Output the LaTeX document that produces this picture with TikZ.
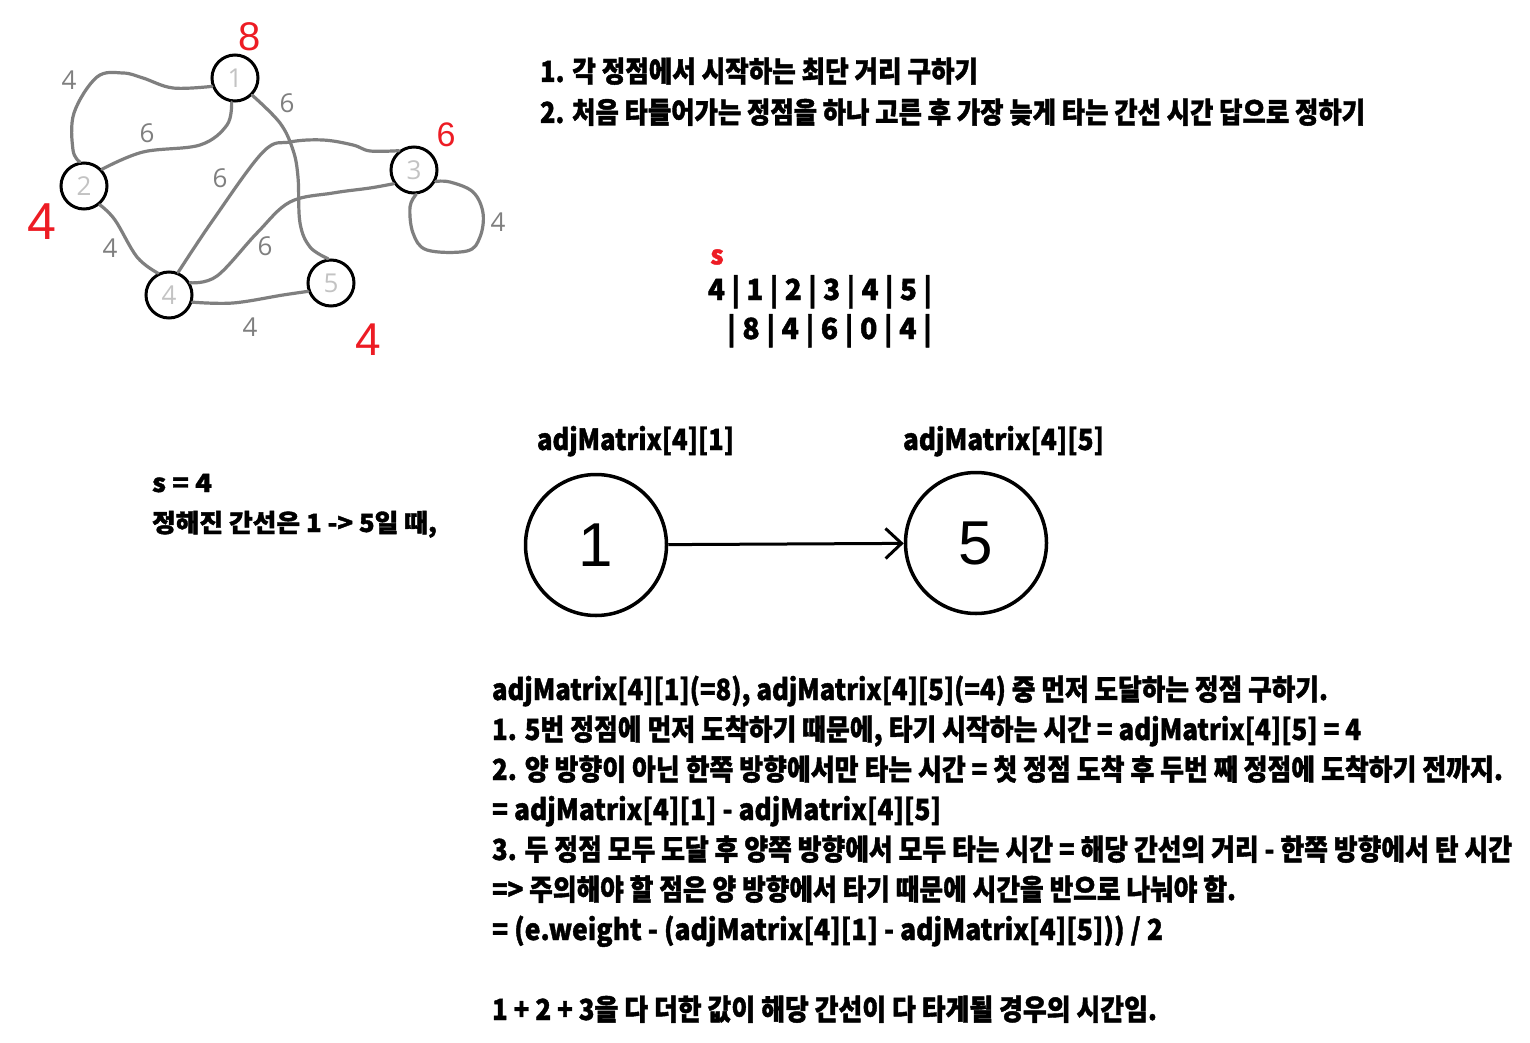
\documentclass[tikz,border=0pt]{standalone}
\usepackage{fontspec}
\usepackage{graphicx}
\usetikzlibrary{arrows.meta}
\newfontfamily\kr{Noto Sans CJK KR}[BoldFeatures={FakeBold=1.5}]
\newfontfamily\os{Open Sans}
\newfontfamily\ls{Liberation Sans}
\definecolor{edgegray}{HTML}{7F7F7F}
\definecolor{lblgray}{HTML}{C3C3C3}
\definecolor{paintred}{HTML}{ED1C24}
\newdimen\fitdim
\newcommand\fitw[2]{\settowidth\fitdim{#2}\scalebox{\fpeval{#1/\fitdim}}[1]{#2}}
\begin{document}
\begin{tikzpicture}[x=1pt,y=-1pt,
  kb/.style={font=\kr\bfseries\fontsize{29}{32}\selectfont, anchor=base west, inner sep=0pt, outer sep=0pt},
  kl/.style={font=\kr\bfseries\fontsize{25}{28}\selectfont, anchor=base west, inner sep=0pt, outer sep=0pt},
  gnode/.style={circle, draw=black, line width=3pt, minimum size=46pt, inner sep=0pt, text=lblgray, font=\os\fontsize{26}{28}\selectfont},
  gedge/.style={draw=edgegray, line width=3.2pt, line cap=round, line join=round},
  wlab/.style={text=edgegray, font=\os\fontsize{26}{28}\selectfont, inner sep=0pt},
  redlab/.style={text=paintred, inner sep=0pt},
  bignode/.style={circle, draw=black, line width=3.5pt, minimum size=141pt, inner sep=0pt, font=\ls\fontsize{62}{62}\selectfont},
  arr/.style={line width=3pt, -{Straight Barb[length=16pt,width=30pt,line width=3pt]}}
]
\useasboundingbox[fill=white] (0,0) rectangle (1530,1043);

% ---------- graph ----------
\node[gnode] (n1) at (235,78) {1};
\node[gnode] (n2) at (84,186) {2};
\node[gnode] (n3) at (414,170) {3};
\node[gnode] (n4) at (169,295) {4};
\node[gnode] (n5) at (331,283) {5};

\draw[gedge] plot[smooth, tension=0.6] coordinates {(n1.200) (173,88) (143,78) (123,73) (97,77) (74,113) (73,150) (n2.100)};
\draw[gedge] plot[smooth, tension=0.6] coordinates {(n1.262) (227,125) (200,145) (143,152) (n2.43)};
\draw[gedge] plot[smooth, tension=0.6] coordinates {(n1.315) (280,123) (293,150) (298,177) (300,223) (310,247) (n5.97)};
\draw[gedge] plot[smooth, tension=0.6] coordinates {(n4.68) (213,220) (263,152) (290,142) (323,140) (353,145) (370,151) (n3.128)};
\draw[gedge] plot[smooth, tension=0.6] coordinates {(n4.30) (217,276) (257,233) (290,202) (333,193) (370,188) (n3.214)};
\draw[gedge] plot[smooth, tension=0.6] coordinates {(n3.332) (450,182) (473,192) (483,213) (480,237) (467,251) (427,250) (413,233) (410,207) (n3.275)};
\draw[gedge] plot[smooth, tension=0.6] coordinates {(n2.310) (115,220) (137,257) (n4.117)};
\draw[gedge] plot[smooth, tension=0.6] coordinates {(n4.343) (233,303) (283,295) (n5.200)};

\node[wlab] (w12a) at (69,80) {4};
\node[wlab] (w12b) at (147,133) {6};
\node[wlab] (w15) at (287,103) {6};
\node[wlab] (w43a) at (220,178) {6};
\node[wlab] (w43b) at (265,246) {6};
\node[wlab] (w33) at (498,222) {4};
\node[wlab] (w24) at (110,248) {4};
\node[wlab] (w45) at (250,327) {4};

\node[redlab, font=\ls\fontsize{40}{40}\selectfont] (r1) at (250,37) {8};
\node[redlab, font=\ls\fontsize{34}{34}\selectfont] (r3) at (446,135) {6};
\node[redlab, font=\ls\fontsize{52}{52}\selectfont] (r2) at (42,222) {4};
\node[redlab, font=\ls\fontsize{46}{46}\selectfont] (r5) at (368,340) {4};

% ---------- top text ----------
\node[kb] (t1) at (540,82) {\fitw{438}{1. 각 정점에서 시작하는 최단 거리 구하기}};
\node[kb] (t2) at (540,123) {\fitw{825}{2. 처음 타들어가는 정점을 하나 고른 후 가장 늦게 타는 간선 시간 답으로 정하기}};

% ---------- table ----------
\node[redlab, font=\kr\bfseries\fontsize{26}{26}\selectfont] (s) at (717,257) {s};
\node[kb, font=\kr\bfseries\fontsize{29}{30}\selectfont] (row1) at (708,300) {\fitw{224}{4 | 1 | 2 | 3 | 4 | 5 |}};
\node[kb, font=\kr\bfseries\fontsize{29}{30}\selectfont] (row2) at (727,339) {\fitw{205}{| 8 | 4 | 6 | 0 | 4 |}};

% ---------- left text ----------
\node[kl] (s4) at (152,492) {\fitw{60}{s = 4}};
\node[kl] (edge) at (152,532) {\fitw{285}{정해진 간선은 1 -> 5일 때,}};

% ---------- big circles ----------
\node[kb] (lab1) at (537,450) {\fitw{197}{adjMatrix[4][1]}};
\node[kb] (lab5) at (903,450) {\fitw{201}{adjMatrix[4][5]}};
\node[bignode] (b1) at (596,545) {1};
\node[bignode] (b5) at (976,543) {5};
\draw[arr] (b1) -- (b5);

% ---------- bottom text ----------
\node[kb] (l1) at (492,700) {\fitw{836}{adjMatrix[4][1](=8), adjMatrix[4][5](=4) 중 먼저 도달하는 정점 구하기.}};
\node[kb] (l2) at (492,740) {\fitw{869}{1. 5번 정점에 먼저 도착하기 때문에, 타기 시작하는 시간 = adjMatrix[4][5] = 4}};
\node[kb] (l3) at (492,780) {\fitw{1011}{2. 양 방향이 아닌 한쪽 방향에서만 타는 시간 = 첫 정점 도착 후 두번 째 정점에 도착하기 전까지.}};
\node[kb] (l4) at (492,820) {\fitw{449}{= adjMatrix[4][1] - adjMatrix[4][5]}};
\node[kb] (l5) at (492,860) {\fitw{1020}{3. 두 정점 모두 도달 후 양쪽 방향에서 모두 타는 시간 = 해당 간선의 거리 - 한쪽 방향에서 탄 시간}};
\node[kb] (l6) at (492,900) {\fitw{744}{=> 주의해야 할 점은 양 방향에서 타기 때문에 시간을 반으로 나눠야 함.}};
\node[kb] (l7) at (492,940) {\fitw{671}{= (e.weight - (adjMatrix[4][1] - adjMatrix[4][5])) / 2}};
\node[kb] (l8) at (492,1020) {\fitw{665}{1 + 2 + 3을 다 더한 값이 해당 간선이 다 타게될 경우의 시간임.}};
\end{tikzpicture}
\end{document}
